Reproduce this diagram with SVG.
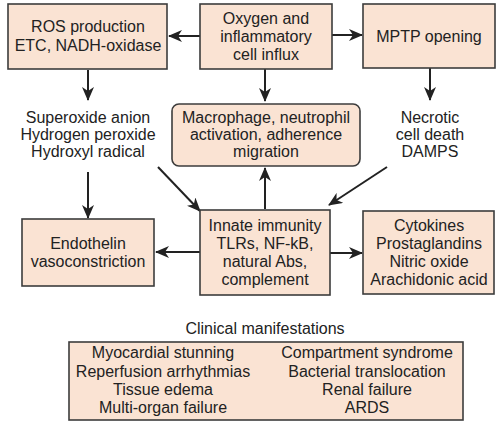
<svg xmlns="http://www.w3.org/2000/svg" width="503" height="423" viewBox="0 0 503 423">
<defs>
<style>
.box{fill:#fae3d3;stroke:#3c3c3c;stroke-width:1.6}
.t{font-family:"Liberation Sans",Arial,sans-serif;font-size:16px;fill:#222;text-anchor:middle}
.c{stroke:#222;stroke-width:2;fill:none}
</style>
<marker id="ah" markerWidth="14" markerHeight="12" refX="13" refY="6" orient="auto" markerUnits="userSpaceOnUse">
<path d="M0,0 L14,6 L0,12 L4,6 z" fill="#222"/>
</marker>
</defs>
<rect width="503" height="423" fill="#fff"/>
<g id="connectors">
<line class="c" x1="200" y1="36" x2="169" y2="36" marker-end="url(#ah)"/>
<line class="c" x1="332" y1="35" x2="362" y2="35" marker-end="url(#ah)"/>
<line class="c" x1="88" y1="70" x2="88" y2="100" marker-end="url(#ah)"/>
<line class="c" x1="265" y1="69" x2="265" y2="101" marker-end="url(#ah)"/>
<line class="c" x1="430" y1="68" x2="430" y2="100" marker-end="url(#ah)"/>
<line class="c" x1="88" y1="172" x2="88" y2="218" marker-end="url(#ah)"/>
<line class="c" x1="158" y1="167" x2="200" y2="211" marker-end="url(#ah)"/>
<line class="c" x1="265" y1="209" x2="265" y2="168" marker-end="url(#ah)"/>
<line class="c" x1="387" y1="167" x2="329" y2="205" marker-end="url(#ah)"/>
<line class="c" x1="200" y1="252" x2="156" y2="252" marker-end="url(#ah)"/>
<line class="c" x1="330" y1="253" x2="362" y2="253" marker-end="url(#ah)"/>
</g>
<g id="ros">
<rect class="box" x="8" y="4" width="159" height="65"/>
<text class="t" x="88" y="32">ROS production</text>
<text class="t" x="88" y="51">ETC, NADH-oxidase</text>
</g>
<g id="oxygen">
<rect class="box" x="200" y="4" width="132" height="65"/>
<text class="t" x="266" y="24">Oxygen and</text>
<text class="t" x="266" y="42">inflammatory</text>
<text class="t" x="266" y="60">cell influx</text>
</g>
<g id="mptp">
<rect class="box" x="363" y="4" width="132" height="64"/>
<text class="t" x="429" y="42">MPTP opening</text>
</g>
<g id="ros-species">
<text class="t" x="88" y="123">Superoxide anion</text>
<text class="t" x="88" y="140">Hydrogen peroxide</text>
<text class="t" x="88" y="157">Hydroxyl radical</text>
</g>
<g id="macrophage">
<rect class="box" x="172" y="104" width="188" height="62" rx="7"/>
<text class="t" x="266" y="123">Macrophage, neutrophil</text>
<text class="t" x="266" y="140">activation, adherence</text>
<text class="t" x="266" y="157">migration</text>
</g>
<g id="necrotic">
<text class="t" x="430" y="123">Necrotic</text>
<text class="t" x="430" y="140">cell death</text>
<text class="t" x="430" y="157">DAMPS</text>
</g>
<g id="endothelin">
<rect class="box" x="22" y="219" width="132" height="67"/>
<text class="t" x="88" y="249">Endothelin</text>
<text class="t" x="88" y="267">vasoconstriction</text>
</g>
<g id="innate">
<rect class="box" x="200" y="210" width="130" height="85"/>
<text class="t" x="265" y="231">Innate immunity</text>
<text class="t" x="265" y="249">TLRs, NF-kB,</text>
<text class="t" x="265" y="267">natural Abs,</text>
<text class="t" x="265" y="285">complement</text>
</g>
<g id="cytokines">
<rect class="box" x="363" y="211" width="131" height="83"/>
<text class="t" x="429" y="231">Cytokines</text>
<text class="t" x="429" y="249">Prostaglandins</text>
<text class="t" x="429" y="267">Nitric oxide</text>
<text class="t" x="429" y="285">Arachidonic acid</text>
</g>
<g id="clinical">
<text class="t" x="265" y="334">Clinical manifestations</text>
<rect class="box" x="69" y="342" width="394" height="78"/>
<text class="t" x="163" y="358">Myocardial stunning</text>
<text class="t" x="163" y="377">Reperfusion arrhythmias</text>
<text class="t" x="163" y="395">Tissue edema</text>
<text class="t" x="163" y="413">Multi-organ failure</text>
<text class="t" x="367" y="358">Compartment syndrome</text>
<text class="t" x="367" y="377">Bacterial translocation</text>
<text class="t" x="367" y="395">Renal failure</text>
<text class="t" x="367" y="413">ARDS</text>
</g>
</svg>
